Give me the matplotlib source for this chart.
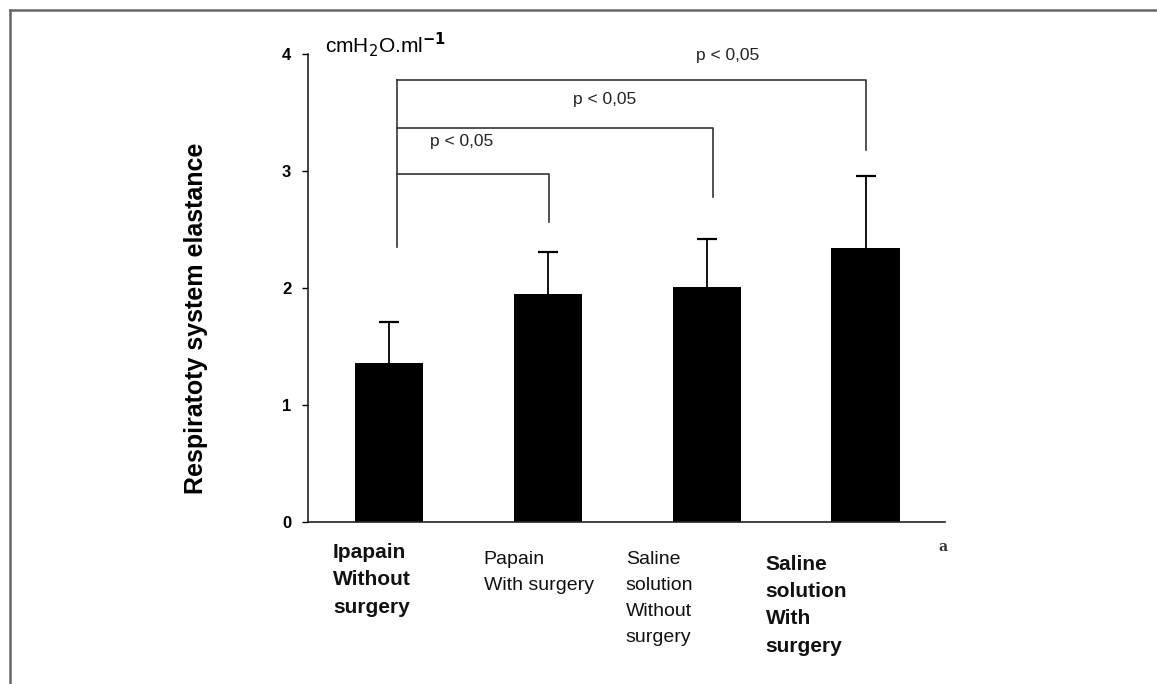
"""Respiratory system elastance by group, with significance brackets."""

import matplotlib

matplotlib.use("Agg")
import matplotlib.pyplot as plt
from matplotlib.lines import Line2D

plt.rcParams["font.family"] = ["Liberation Sans", "DejaVu Sans"]

# Data
groups = [
    "Ipapain\nWithout\nsurgery",
    "Papain\nWith surgery",
    "Saline\nsolution\nWithout\nsurgery",
    "Saline\nsolution\nWith\nsurgery",
]
label_bold = [True, False, False, True]
means = [1.36, 1.95, 2.01, 2.34]
sd_upper = [0.35, 0.36, 0.41, 0.62]

# significance brackets: (group from, group to, bar level, drop end)
bracket_to = [1, 2, 3]
bracket_level = [2.97, 3.37, 3.78]
bracket_drop_end = [2.56, 2.78, 3.18]
bracket_left_end = 2.35
p_text = "p < 0,05"

fig = plt.figure(figsize=(11.57, 6.84), dpi=100)
ax = fig.add_axes([0.2662, 0.2368, 0.5506, 0.6843])

x = list(range(len(groups)))
ax.bar(x, means, width=0.43, color="black", zorder=2)
eb = ax.errorbar(x, means, yerr=[[0] * len(means), sd_upper], fmt="none",
                 ecolor="black", elinewidth=1.3, capsize=7, capthick=1.6, zorder=3)
eb[1][0].set_visible(False)  # no cap at the bar top

ax.set_xlim(-0.51, 3.5)
ax.set_ylim(0, 4)
ax.set_yticks([0, 1, 2, 3, 4])
ax.set_xticks([])
ax.tick_params(axis="y", length=4, width=1, labelsize=12, pad=8)
for lbl in ax.get_yticklabels():
    lbl.set_fontweight("bold")
for side in ["top", "right"]:
    ax.spines[side].set_visible(False)
for side in ["left", "bottom"]:
    ax.spines[side].set_linewidth(1.2)
    ax.spines[side].set_color("#222222")

# brackets
br_color = "#333333"
left_x = 0.05
ax.plot([left_x, left_x], [bracket_left_end, max(bracket_level)],
        color=br_color, lw=1.2)
right_off = [0.01, 0.04, 0.0]
label_x = [0.46, 1.36, 2.13]
label_dy = [0.22, 0.18, 0.14]
for k, (g, lev, end) in enumerate(zip(bracket_to, bracket_level, bracket_drop_end)):
    rx = g + right_off[k]
    ax.plot([left_x, rx, rx], [lev, lev, end], color=br_color, lw=1.2)
    ax.text(label_x[k], lev + label_dy[k], p_text, ha="center", va="bottom",
            fontsize=12.5, color="#222222")

# category labels under the bars
label_x0 = [-0.352, 0.597, 1.491, 2.371]
label_y0 = [-0.045, -0.062, -0.062, -0.07]
for g, lx, ly, b in zip(groups, label_x0, label_y0, label_bold):
    ax.text(lx, ly, g, transform=ax.get_xaxis_transform(), ha="left", va="top",
            fontsize=15 if b else 14, fontweight="bold" if b else "normal",
            linespacing=1.55 if b else 1.68, color="#111111")

ax.text(0.997, -0.053, "a", transform=ax.transAxes, ha="center", va="center",
        fontsize=10, fontweight="bold", family="DejaVu Serif", color="#333333")

ax.text(0.027, 0.99, r"cmH$_2$O.ml$^{\mathbf{-1}}$", transform=ax.transAxes,
        ha="left", va="bottom", fontsize=15)

fig.text(0.169, 0.535, "Respiratoty system elastance", rotation=90,
         ha="center", va="center", fontsize=18, fontweight="bold")

# outer frame (left and top edges only)
fig.add_artist(Line2D([10 / 1157, 10 / 1157], [0, 1 - 10 / 684],
                      transform=fig.transFigure, color="#666666", lw=1.8))
fig.add_artist(Line2D([10 / 1157, 1], [1 - 10 / 684, 1 - 10 / 684],
                      transform=fig.transFigure, color="#666666", lw=1.8))

fig.savefig("out.png", dpi=100, facecolor="white")
